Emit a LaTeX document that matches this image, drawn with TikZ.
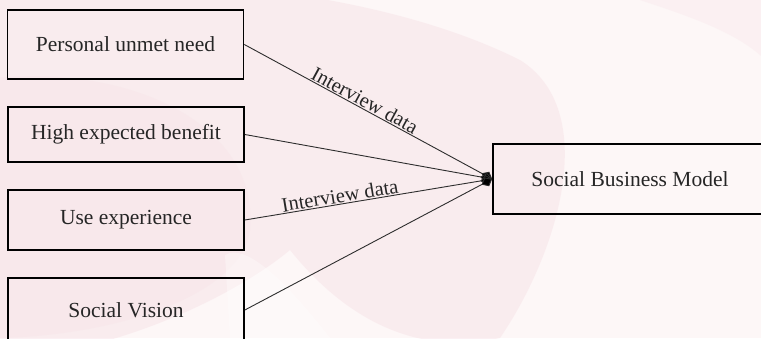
\documentclass[tikz,border=0pt]{standalone}
\usepackage{fontspec}
\setmainfont{Liberation Serif}
\usetikzlibrary{arrows.meta}
\definecolor{paper}{RGB}{253,247,247}
\definecolor{wash}{RGB}{247,226,231}
\definecolor{linegray}{RGB}{45,45,45}
\tikzset{
  factor/.style={draw=black, line width=1.7pt, minimum width=236pt, inner sep=0pt,
    font=\fontsize{21.5}{24}\selectfont, text=black!85},
  link/.style={draw=linegray, line width=0.9pt,
    -{Diamond[length=12pt,width=10pt,fill=black]}},
  linklabel/.style={sloped, anchor=south, inner sep=1pt,
    font=\fontsize{20.5}{24}\selectfont, text=black!85}
}
\begin{document}
\begin{tikzpicture}[x=1pt,y=-1pt]
  % page and soft watercolour wash
  \path[use as bounding box] (0,0) rectangle (761,338);
  \clip (0,0) rectangle (761,338);
  \fill[paper] (0,0) rectangle (761,338);
  \fill[wash, opacity=0.5] (-20,-20) .. controls (250,-30) and (420,10) .. (520,60)
    .. controls (600,110) and (560,250) .. (500,338)
    .. controls (400,360) and (330,300) .. (290,250)
    .. controls (230,300) and (100,360) .. (-20,360) -- cycle;
  \fill[wash, opacity=0.4] (-20,80) .. controls (120,60) and (260,120) .. (250,230)
    .. controls (240,300) and (100,340) .. (-20,338) -- cycle;
  \fill[white, opacity=0.35] (225,255) .. controls (250,240) and (300,300) .. (330,338)
    -- (230,338) -- cycle;
  \fill[wash, opacity=0.3] (640,0) .. controls (700,20) and (760,40) .. (780,80)
    -- (780,-10) -- cycle;

  % factor boxes
  \node[factor, minimum height=69pt] (need)    at (125.5,44.5)  {Personal unmet need};
  \node[factor, minimum height=55pt] (benefit) at (126,134.5)   {High expected benefit};
  \node[factor, minimum height=60pt] (useexp)  at (126,220)     {Use experience};
  \node[factor, minimum height=64pt] (vision)  at (126,310)     {Social Vision};

  % outcome box
  \node[factor, minimum width=274pt, minimum height=70pt] (sbm) at (630,179)
    {Social Business Model};

  % connectors
  \draw[link] (need.east) -- node[linklabel, pos=0.47] {Interview data} (sbm.west);
  \draw[link] (benefit.east) -- (sbm.west);
  \draw[link] (useexp.east) -- node[linklabel, pos=0.39] {Interview data} (sbm.west);
  \draw[link] (vision.east) -- (sbm.west);
\end{tikzpicture}
\end{document}
